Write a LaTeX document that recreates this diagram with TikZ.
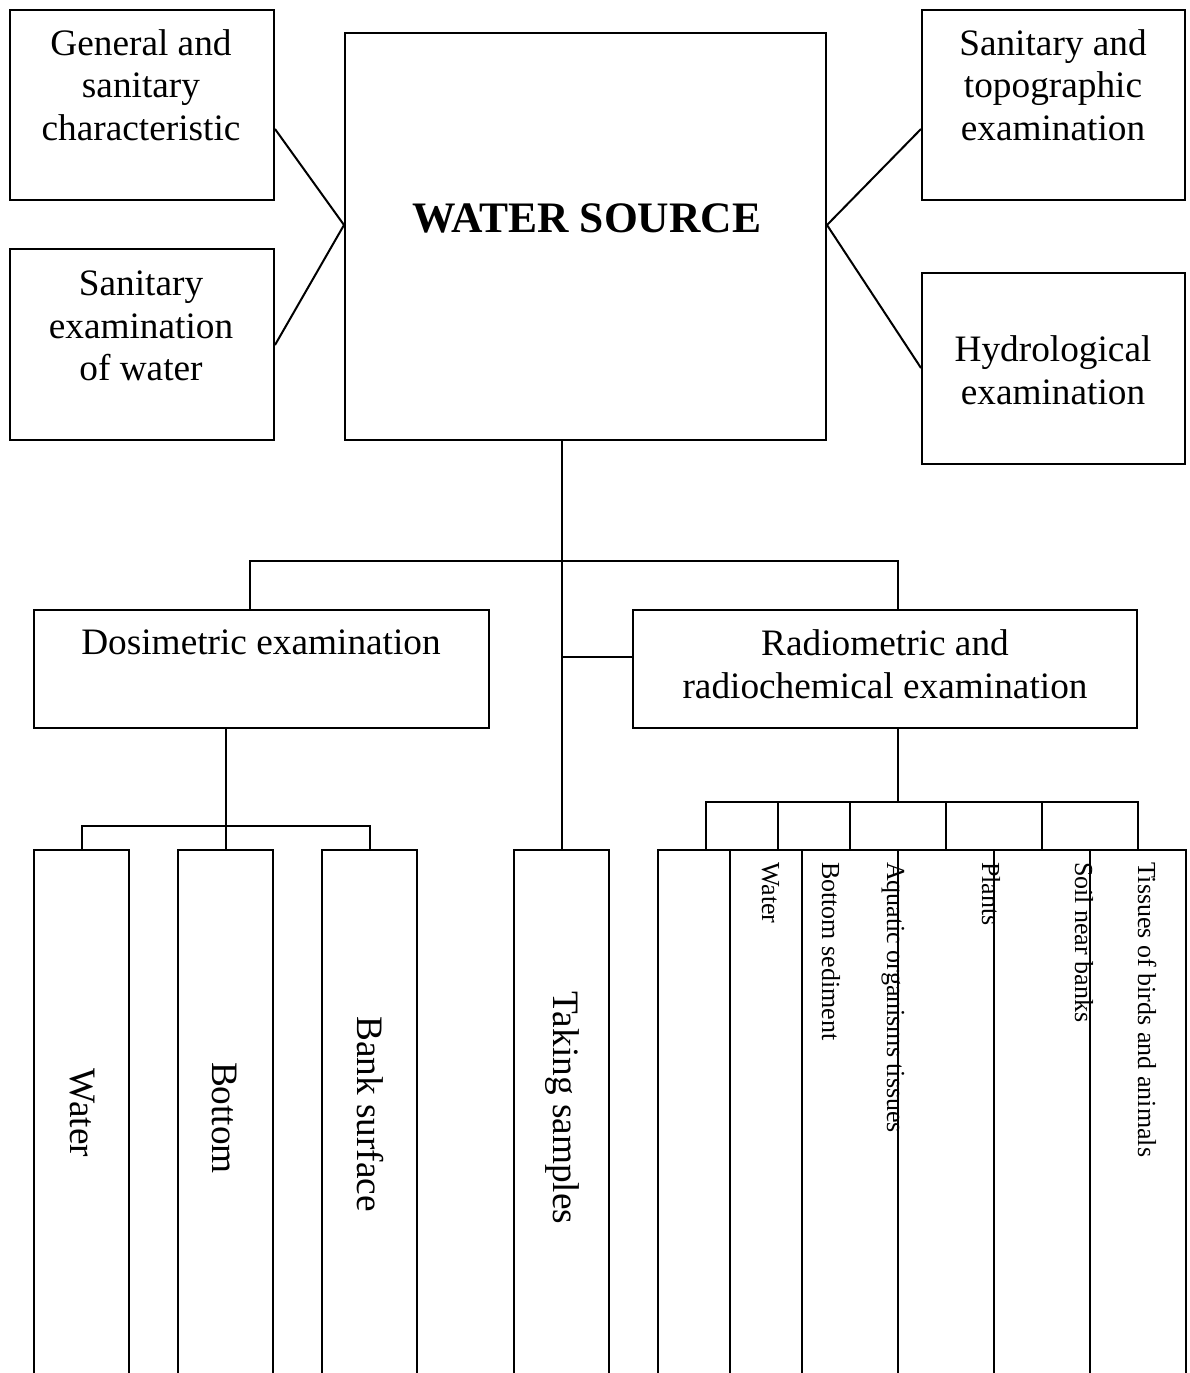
\documentclass[tikz,border=0pt]{standalone}
\usepackage{fontspec}
\setmainfont{Liberation Serif}
\begin{document}
\begin{tikzpicture}[x=1pt,y=-1pt,line width=2pt,
  box/.style={draw,rectangle,inner sep=0pt,line width=2pt},
  wbox/.style={box,fill=white},
  big/.style={font=\fontsize{37.3}{42.5}\selectfont,align=center,inner sep=0pt},
  bigb/.style={font=\fontsize{43.5}{48}\selectfont\bfseries,inner sep=0pt},
  vtext/.style={font=\fontsize{37.3}{42.5}\selectfont,inner sep=0pt,rotate=-90},
  stext/.style={font=\fontsize{26}{30}\selectfont,inner sep=0pt,rotate=-90,anchor=base west}]
\useasboundingbox (0,0) rectangle (1189,1373);
% top boxes
\node[box,minimum width=264,minimum height=190] (gen) at (142,105) {};
\node[box,minimum width=264,minimum height=191] (sew) at (142,344.5) {};
\node[box,minimum width=481,minimum height=407] (ws) at (585.5,236.5) {};
\node[box,minimum width=263,minimum height=190] (sto) at (1053.5,105) {};
\node[box,minimum width=263,minimum height=191] (hyd) at (1053.5,368.5) {};
% middle boxes
\node[box,minimum width=455,minimum height=118] (dos) at (261.5,669) {};
\node[box,minimum width=504,minimum height=118] (rad) at (885,669) {};
% bottom left boxes (open below the page edge)
\node[box,minimum width=95,minimum height=550] (bw) at (81.5,1125) {};
\node[box,minimum width=95,minimum height=550] (bb) at (225.5,1125) {};
\node[box,minimum width=95,minimum height=550] (bs) at (369.5,1125) {};
\node[box,minimum width=95,minimum height=550] (ts) at (561.5,1125) {};
% bottom right overlapping boxes
\node[wbox,minimum width=96,minimum height=550] (r1) at (706,1125) {};
\node[wbox,minimum width=96,minimum height=550] (r2) at (778,1125) {};
\node[wbox,minimum width=96,minimum height=550] (r3) at (850,1125) {};
\node[wbox,minimum width=96,minimum height=550] (r4) at (946,1125) {};
\node[wbox,minimum width=96,minimum height=550] (r5) at (1042,1125) {};
\node[wbox,minimum width=96,minimum height=550] (r6) at (1138,1125) {};
% connectors to the water source
\coordinate (wsL) at (ws.west |- 0,225);
\coordinate (wsR) at (ws.east |- 0,225);
\draw (gen.east |- 0,129) -- (wsL) -- (sew.east |- 0,345);
\draw (sto.west |- 0,129) -- (wsR) -- (hyd.west |- 0,368);
% tree
\draw (ws.south -| ts.north) -- (ts.north);
\draw (dos.north -| 250,0) -- (250,561) -- (898,561) -- (rad.north -| 898,0);
\draw (rad.west |- 0,657) -- (ts.north |- 0,657);
\draw (dos.south -| bb.north) -- (bb.north);
\draw (bw.north) -- (bw.north |- 0,826) -- (bs.north |- 0,826) -- (bs.north);
\draw (rad.south -| 898,0) -- (898,802);
\draw (r1.north) -- (r1.north |- 0,802) -- (r6.north |- 0,802) -- (r6.north);
\foreach \r in {r2,r3,r4,r5} \draw (\r.north) -- (\r.north |- 0,802);
% texts
\node[big] (genT) at (141,85) {General and\\sanitary\\characteristic};
\node[big] (sewT) at (141,326) {Sanitary\\examination\\of water};
\node[bigb] (wsT) at (587,218) {WATER SOURCE};
\node[big] (stoT) at (1053,85) {Sanitary and\\topographic\\examination};
\node[big] (hydT) at (1053,370) {Hydrological\\examination};
\node[big] (dosT) at (261,642) {Dosimetric examination};
\node[big] (radT) at (885,664) {Radiometric and\\radiochemical examination};
\node[vtext] (bwT) at (82,1113) {Water};
\node[vtext] (bbT) at (225,1118) {Bottom};
\node[vtext] (bsT) at (370,1114) {Bank surface};
\node[vtext] (tsT) at (562,1108) {Taking samples};
\node[stext] (s1) at (762,861) {Water};
\node[stext] (s2) at (822,861) {Bottom sediment};
\node[stext] (s3) at (887,861) {Aquatic organisms tissues};
\node[stext] (s4) at (982,861) {Plants};
\node[stext] (s5) at (1075,861) {Soil near banks};
\node[stext] (s6) at (1138,861) {Tissues of birds and animals};
\end{tikzpicture}
\end{document}
